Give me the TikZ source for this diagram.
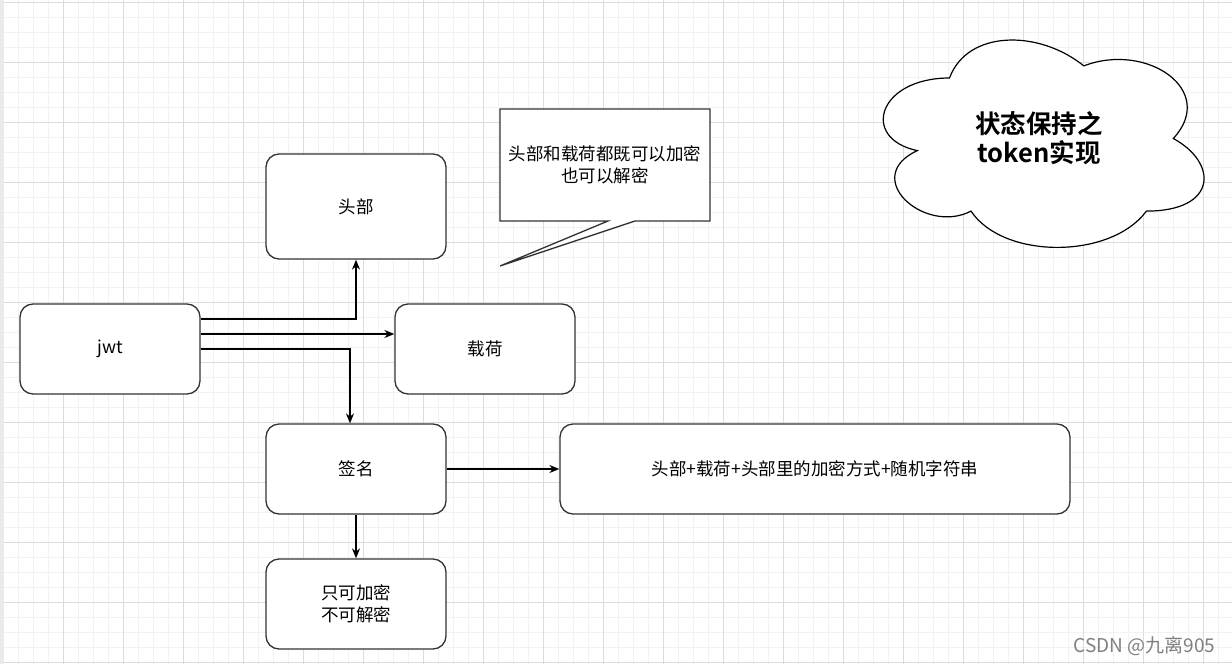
\documentclass[tikz,border=0pt]{standalone}
\usepackage{fontspec}
\setmainfont{Noto Sans CJK SC}[BoldFont={Noto Sans CJK SC Bold}]
\usetikzlibrary{arrows.meta}
\definecolor{edge}{HTML}{333333}
\definecolor{gridminor}{HTML}{F2F2F2}
\definecolor{gridmajor}{HTML}{DCDCDC}
\tikzset{
  box/.style={draw=edge, line width=1.3pt, rounded corners=13pt, fill=white,
    minimum width=180pt, minimum height=90pt, inner sep=2pt, align=center,
    font=\fontsize{17.5}{22}\selectfont},
  arr/.style={draw=black, line width=1.3pt, -{Stealth[length=10pt,width=8pt]}},
}
\begin{document}
\begin{tikzpicture}[x={(1pt,0pt)}, y={(0pt,-1pt)}]
\useasboundingbox (0,0) rectangle (1232,664);
\fill[white] (0,0) rectangle (1232,664);
% grid
\foreach \x in {3,18,...,1232} \draw[gridminor, line width=0.8pt] (\x,0) -- (\x,664);
\foreach \y in {2,17,...,664} \draw[gridminor, line width=0.8pt] (0,\y) -- (1232,\y);
\foreach \x in {3,63,...,1232} \draw[gridmajor, line width=0.9pt] (\x,0) -- (\x,664);
\foreach \y in {2,62,...,664} \draw[gridmajor, line width=0.9pt] (0,\y) -- (1232,\y);
\fill[gridmajor!60] (0,0) rectangle (4,664);

% nodes
\node[box, minimum height=105pt] (head) at (356,206.5) {头部};
\node[box] (jwt) at (110,349) {jwt};
\node[box] (payload) at (485,349) {载荷};
\node[box] (sig) at (356,469) {签名};
\node[box] (enc) at (356,604) {只可加密\\不可解密};
\node[box, minimum width=510pt] (formula) at (815,469) {头部+载荷+头部里的加密方式+随机字符串};

% callout
\draw[edge, line width=1.3pt, fill=white] (500,109) -- (710,109) -- (710,221) -- (635,221) -- (500,266) -- (608,221) -- (500,221) -- cycle;
\node[align=center, font=\fontsize{17.5}{22}\selectfont] (note) at (605,165) {头部和载荷都既可以加密\\也可以解密};

% cloud
\draw[black, line width=1.2pt, fill=white]
  (949.5,78) .. controls (877.9,78) and (860,138.5) .. (917.3,150.6)
  .. controls (860,177.2) and (924.4,235.3) .. (971,211.1)
  .. controls (1003.2,259.5) and (1110.6,259.5) .. (1146.4,211.1)
  .. controls (1218,211.1) and (1218,162.7) .. (1173.3,138.5)
  .. controls (1218,90.1) and (1146.4,41.7) .. (1083.8,65.9)
  .. controls (1039,29.6) and (967.4,29.6) .. (949.5,78) -- cycle;
\node[align=center, font=\fontsize{25.5}{29}\selectfont\bfseries] (title) at (1039,138) {状态保持之\\token实现};

% connectors
\draw[arr] ([yshift=30pt]jwt.east) -| (head.south);
\draw[arr] ([yshift=15pt]jwt.east) -- ([yshift=15pt]payload.west);
\draw[arr] (jwt.east) -| ([xshift=-6pt]sig.north);
\draw[arr] (sig.east) -- (formula.west);
\draw[arr] (sig.south) -- (enc.north);

% watermark
\node[anchor=east, text=black!50, font=\fontsize{19}{21}\selectfont] (wm) at (1219,646) {CSDN @九离905};
\end{tikzpicture}
\end{document}
